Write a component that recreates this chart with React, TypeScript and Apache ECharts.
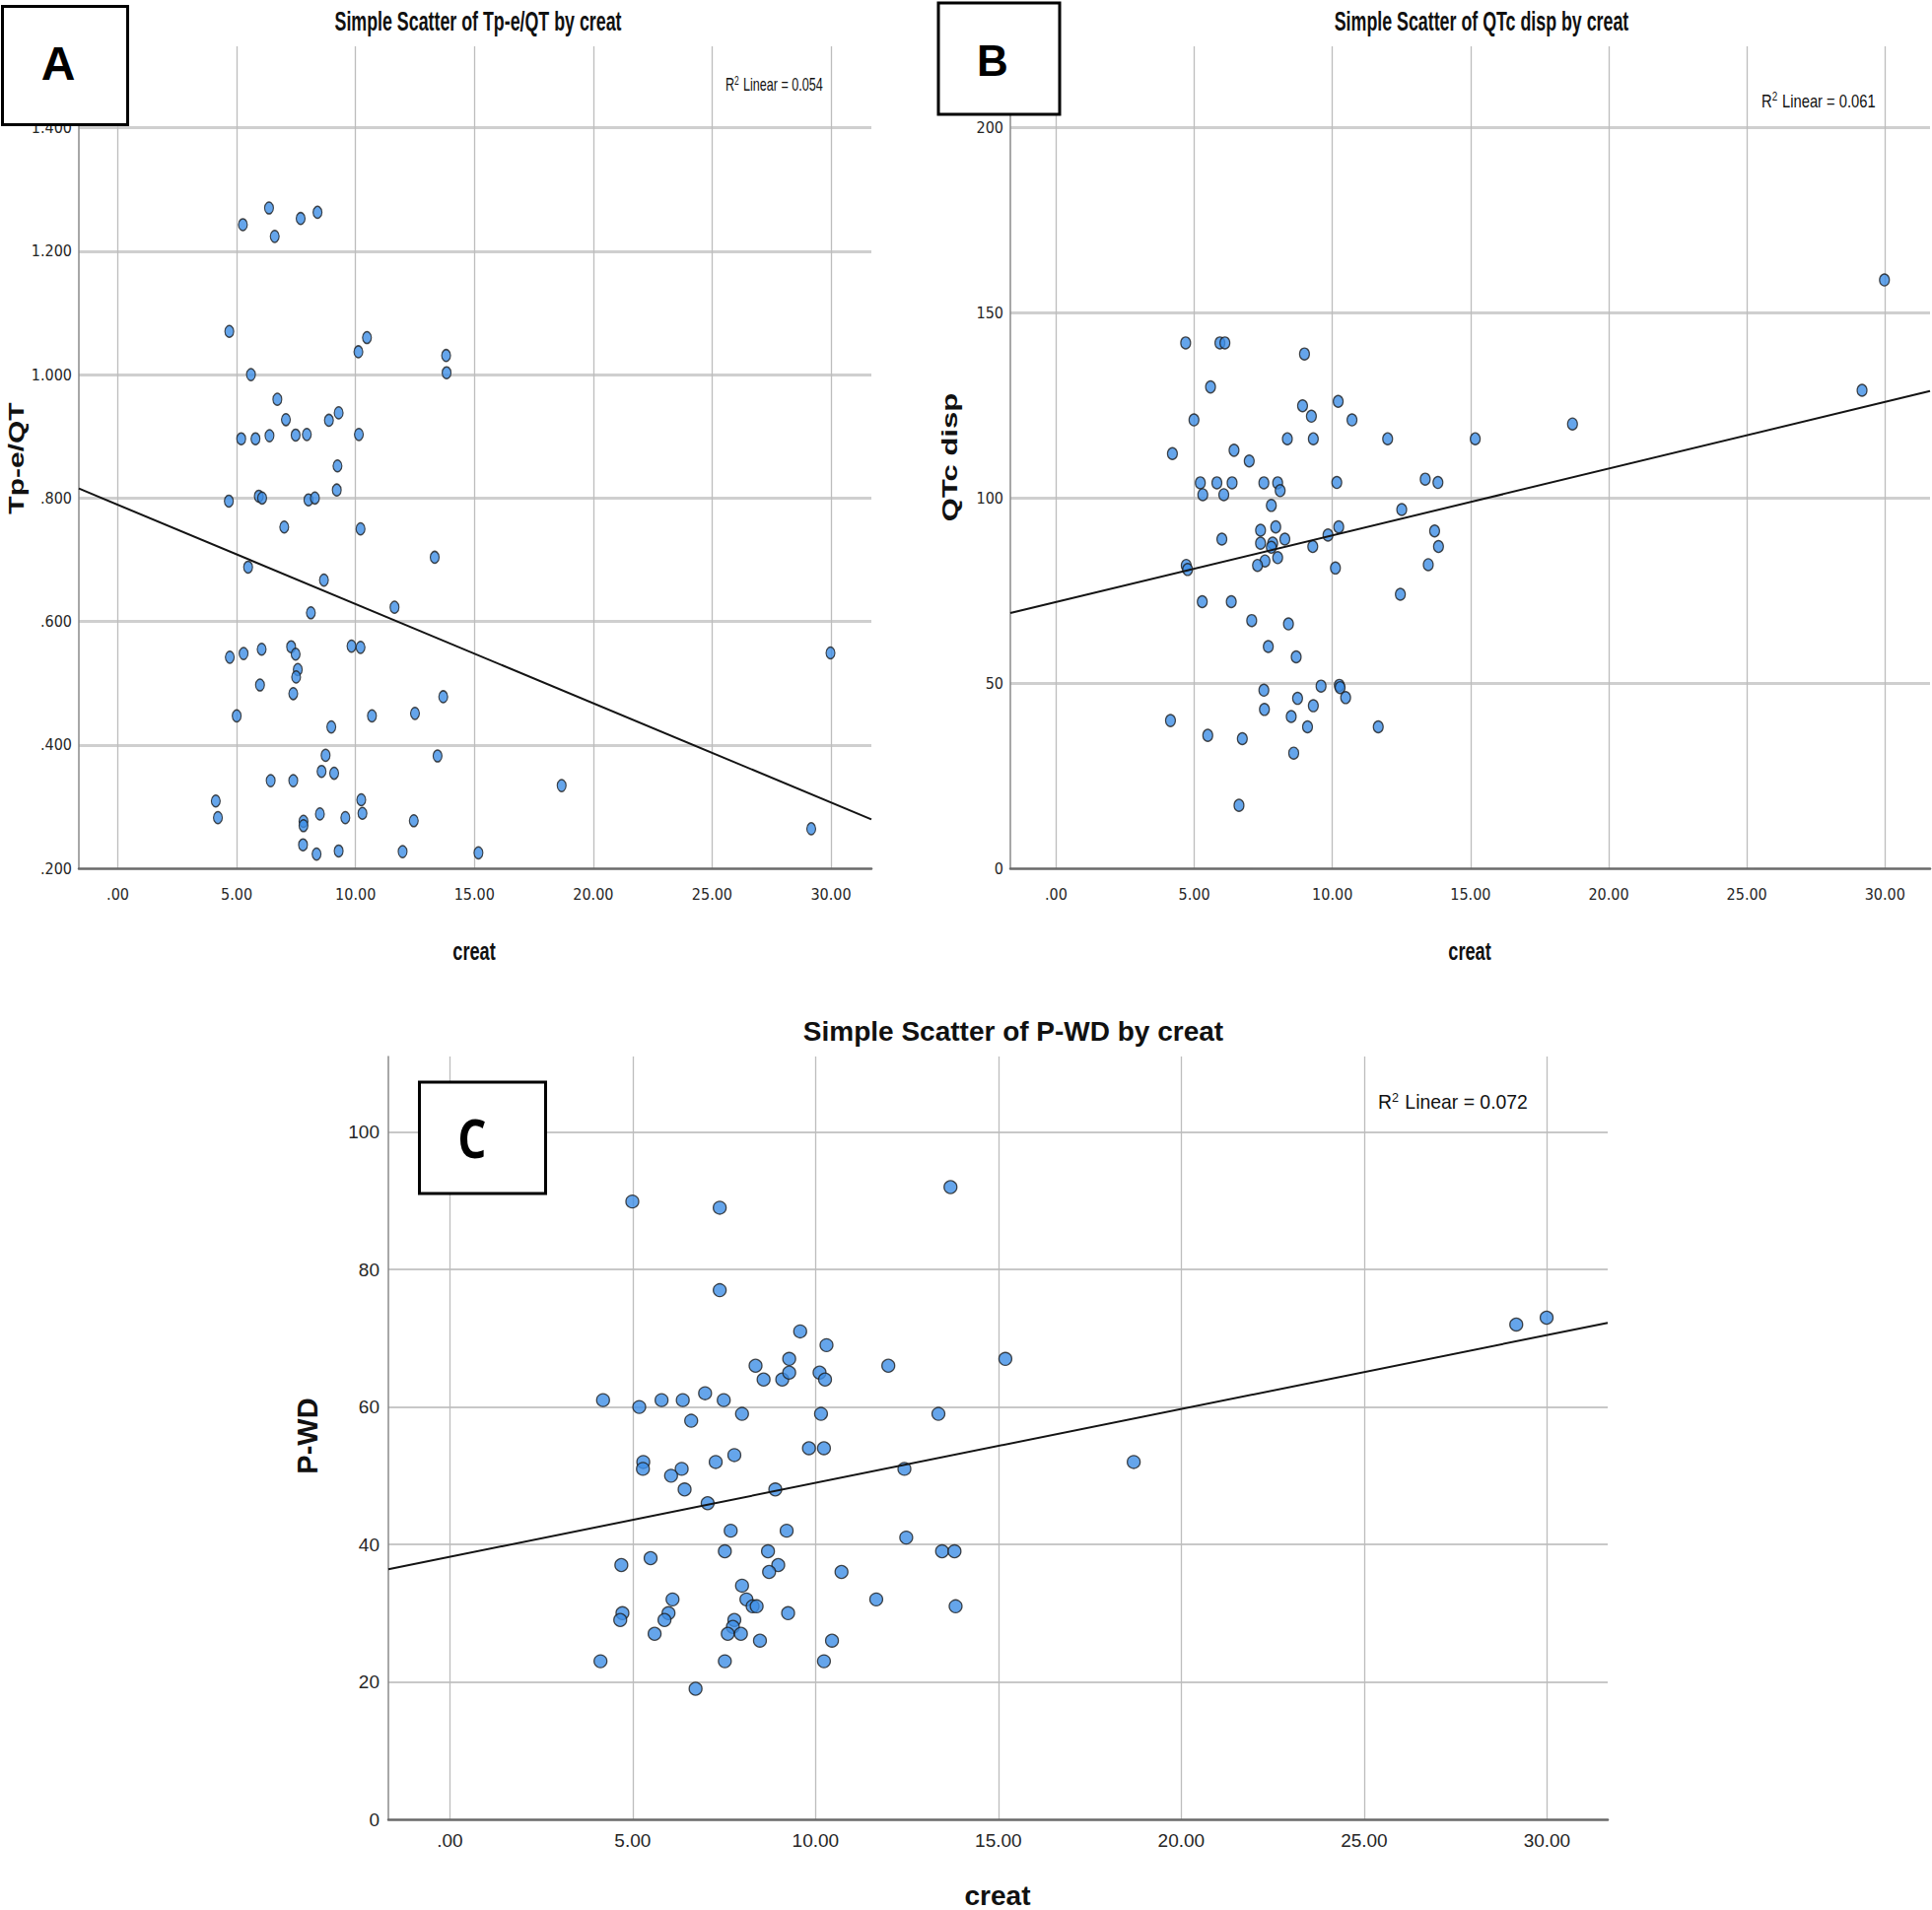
import React, { useEffect, useRef } from "react";
import * as echarts from "echarts";

// ---------- Panel A: Tp-e/QT by creat ----------
const aCreat = [5.26, 6.36, 6.6, 7.69, 8.4, 4.69, 5.6, 10.12, 10.48, 13.81, 13.83, 6.71, 9.29, 7.07, 8.88, 5.19, 5.79, 6.38, 7.48, 7.95, 10.14, 9.24, 9.21, 4.67, 5.93, 6.07, 8.02, 8.29, 7.0, 10.21, 13.33, 5.48, 8.67, 11.64, 8.12, 7.29, 9.83, 10.21, 6.05, 5.29, 4.71, 7.48, 7.57, 7.5, 5.98, 7.38, 13.69, 5.0, 10.69, 12.5, 8.98, 8.74, 13.45, 8.57, 9.1, 6.43, 7.38, 18.67, 4.12, 10.24, 4.21, 8.5, 10.29, 9.57, 7.81, 7.81, 12.45, 29.17, 29.98, 7.79, 8.36, 9.29, 11.98, 15.17];
const aTpeQT = [1.243, 1.27, 1.224, 1.253, 1.263, 1.07, 1.0, 1.037, 1.06, 1.031, 1.003, 0.96, 0.938, 0.927, 0.926, 0.896, 0.896, 0.901, 0.902, 0.903, 0.903, 0.852, 0.813, 0.795, 0.803, 0.8, 0.797, 0.8, 0.753, 0.75, 0.704, 0.688, 0.667, 0.623, 0.614, 0.559, 0.56, 0.558, 0.555, 0.548, 0.542, 0.547, 0.522, 0.51, 0.497, 0.483, 0.478, 0.447, 0.447, 0.451, 0.429, 0.383, 0.382, 0.357, 0.354, 0.342, 0.342, 0.334, 0.309, 0.311, 0.282, 0.288, 0.289, 0.282, 0.276, 0.269, 0.277, 0.264, 0.549, 0.238, 0.223, 0.228, 0.227, 0.225];
const aFitIntercept = 0.789;
const aFitSlope = -0.01608;
const aR2 = "0.054";

// ---------- Panel B: QTc disp by creat ----------
const bCreat = [29.98, 29.17, 4.69, 5.93, 6.11, 8.99, 5.59, 8.92, 10.21, 9.24, 4.99, 10.71, 18.69, 8.37, 9.31, 12.0, 15.17, 4.21, 6.44, 6.99, 5.22, 5.82, 6.37, 7.52, 8.02, 10.16, 13.36, 13.82, 5.31, 6.07, 8.11, 7.79, 12.51, 7.95, 10.23, 7.4, 13.7, 6.0, 8.28, 9.84, 7.4, 7.84, 7.79, 9.29, 13.84, 8.02, 7.56, 7.29, 4.71, 4.76, 10.11, 13.47, 12.46, 5.29, 6.34, 7.08, 8.41, 7.68, 8.69, 9.59, 10.25, 10.28, 7.52, 8.74, 10.48, 9.31, 7.54, 8.51, 4.14, 9.1, 11.66, 5.49, 6.74, 8.6, 6.62];
const bQTcDisp = [158.9, 129.1, 141.9, 141.9, 141.9, 138.9, 130.0, 124.9, 126.1, 122.1, 121.1, 121.1, 120.0, 116.0, 116.0, 116.0, 116.0, 112.0, 112.9, 110.0, 104.1, 104.1, 104.1, 104.1, 104.1, 104.2, 105.1, 104.2, 100.9, 100.9, 102.0, 98.0, 96.9, 92.2, 92.2, 91.3, 91.1, 88.9, 88.9, 90.0, 87.8, 87.8, 86.7, 86.9, 86.9, 83.9, 83.0, 81.8, 81.8, 80.7, 81.1, 82.0, 74.0, 72.0, 72.0, 66.9, 66.0, 59.9, 57.1, 49.2, 49.4, 48.8, 48.1, 45.9, 46.1, 43.9, 42.9, 41.0, 39.9, 38.2, 38.2, 35.9, 35.0, 31.1, 17.0];
const bFitIntercept = 71.9;
const bFitSlope = 1.802;
const bR2 = "0.061";

// ---------- Panel C: P-WD by creat ----------
const cCreat = [4.99, 7.38, 7.38, 13.69, 9.58, 10.3, 9.28, 8.36, 11.99, 15.19, 8.58, 9.09, 9.28, 10.11, 10.26, 4.19, 5.18, 5.79, 6.37, 6.98, 7.49, 7.99, 10.15, 13.36, 6.6, 9.82, 10.23, 7.78, 5.29, 7.27, 5.28, 6.34, 12.43, 6.05, 8.9, 6.42, 7.05, 7.68, 9.21, 12.48, 7.52, 8.7, 13.46, 13.8, 5.49, 4.69, 8.98, 8.73, 10.71, 7.99, 6.09, 8.11, 11.66, 8.28, 8.39, 13.83, 4.72, 5.98, 9.25, 4.66, 5.87, 7.78, 7.74, 7.6, 7.96, 5.6, 8.48, 10.45, 4.12, 7.52, 10.23, 6.72, 18.7, 29.16, 29.99];
const cPWD = [89.9, 89.0, 77.0, 92.0, 71.0, 69.0, 67.0, 66.0, 66.0, 67.0, 64.0, 64.0, 65.0, 65.0, 64.0, 61.0, 60.0, 61.0, 61.0, 62.0, 61.0, 59.0, 59.0, 59.0, 58.0, 54.0, 54.0, 53.0, 52.0, 52.0, 51.0, 51.0, 51.0, 50.0, 48.0, 48.0, 46.0, 42.0, 42.0, 41.0, 39.0, 39.0, 39.0, 39.0, 38.0, 37.0, 37.0, 36.0, 36.0, 34.0, 32.0, 32.0, 32.0, 31.0, 31.0, 31.0, 30.0, 30.0, 30.0, 29.0, 29.0, 29.0, 28.0, 27.0, 27.0, 27.0, 26.0, 26.0, 23.0, 23.0, 23.0, 19.0, 52.0, 72.0, 73.0];
const cFitIntercept = 38.2;
const cFitSlope = 1.0756;
const cR2 = "0.072";

// Axis extents / tick steps
const aXRange = [-1.64, 31.7];
const aYRange = [0.2, 1.532];
const bXRange = [-1.655, 31.63];
const bYRange = [0, 222];
const cXRange = [-1.68, 31.66];
const cYRange = [0, 111];
const xStep = 5;
const aYStep = 0.2;
const bYStep = 50;
const cYStep = 20;

const NARROW = "'Liberation Sans Narrow', 'Arial Narrow', 'DejaVu Sans Condensed', 'Liberation Sans', Arial, sans-serif";
const SANS = "'Liberation Sans', Arial, 'DejaVu Sans', sans-serif";

const isMultiple = (v: number, step: number) => Math.abs(v / step - Math.round(v / step)) < 1e-6;
const stripZero = (s: string) => s.replace(/^0\./, ".");

const fmtX = (v: number) => (isMultiple(v, xStep) ? stripZero(v.toFixed(2)) : "");
const fmtAY = (v: number) => (isMultiple(v, aYStep) ? stripZero(v.toFixed(3)) : "");
const fmtInt = (step: number) => (v: number) => (isMultiple(v, step) ? String(Math.round(v)) : "");

function zip(xs: number[], ys: number[]) {
  return xs.map((x, i) => [x, ys[i]]);
}
function fitLine(range: number[], a: number, b: number) {
  return range.map((x) => [x, a + b * x]);
}

function xAxis(gridIndex: number, range: number[], font: string, fontSize: number, margin: number, hLine: number) {
  return {
    type: "value",
    gridIndex,
    min: range[0],
    max: range[1],
    minInterval: xStep,
    maxInterval: xStep,
    axisLine: { show: true, onZero: false, lineStyle: { color: "#6a6a6a", width: hLine } },
    axisTick: { show: false },
    axisLabel: { formatter: fmtX, fontFamily: font, fontSize, color: "#262626", margin },
    splitLine: { show: true, showMinLine: false, showMaxLine: false, lineStyle: { color: "#bdbdbd", width: 1.3 } },
  };
}
function yAxis(gridIndex: number, range: number[], step: number, fmt: (v: number) => string, font: string, fontSize: number, margin: number, gw: number, gc: string) {
  return {
    type: "value",
    gridIndex,
    min: range[0],
    max: range[1],
    minInterval: step,
    maxInterval: step,
    axisLine: { show: true, onZero: false, lineStyle: { color: "#8a8a8a", width: 1.5 } },
    axisTick: { show: false },
    axisLabel: { formatter: fmt, fontFamily: font, fontSize, color: "#262626", margin },
    splitLine: { show: true, showMinLine: false, showMaxLine: false, lineStyle: { color: gc, width: gw } },
  };
}

const pointStyle = { color: "#3f8fe6", borderColor: "#1c1c1c", borderWidth: 1.3 };

function scatter(idx: number, xs: number[], ys: number[], size: any) {
  return {
    type: "scatter",
    xAxisIndex: idx,
    yAxisIndex: idx,
    data: zip(xs, ys),
    symbol: "circle",
    symbolSize: size,
    itemStyle: pointStyle,
    z: 2,
  };
}
function fit(idx: number, range: number[], a: number, b: number) {
  return {
    type: "line",
    xAxisIndex: idx,
    yAxisIndex: idx,
    data: fitLine(range, a, b),
    showSymbol: false,
    symbol: "none",
    lineStyle: { color: "#141414", width: 2 },
    z: 3,
    silent: true,
  };
}

function labelBox(x: number, y: number, w: number, h: number, letter: string, cx: number, cy: number, fontSize: number, font: string, sx: number) {
  return [
    { type: "rect", shape: { x, y, width: w, height: h }, style: { fill: "#fff", stroke: "#000", lineWidth: 3 }, z: 10 },
    {
      type: "text",
      x: cx,
      y: cy,
      scaleX: sx,
      style: { text: letter, fontSize, fontWeight: "bold", fontFamily: font, fill: "#000", align: "center", verticalAlign: "middle" },
      z: 11,
    },
  ];
}
function txt(text: string, x: number, y: number, fontSize: number, opts: any = {}) {
  return {
    type: "text",
    x,
    y,
    scaleX: opts.scaleX ?? 1,
    scaleY: opts.scaleY ?? 1,
    rotation: opts.rotation ?? 0,
    style: {
      text,
      fontSize,
      fontWeight: opts.bold ? "bold" : "normal",
      fontFamily: opts.font ?? SANS,
      fill: "#111",
      align: opts.align ?? "center",
      verticalAlign: "middle",
      rich: opts.rich,
    },
    z: 9,
  };
}
function r2Text(value: string, x: number, y: number, fontSize: number, scaleX: number) {
  return {
    type: "text",
    x,
    y,
    scaleX,
    style: {
      text: "R{sup|2} Linear = " + value,
      fontSize,
      fontFamily: SANS,
      fill: "#111",
      align: "left",
      verticalAlign: "middle",
      rich: {
        sup: { fontSize: Math.round(fontSize * 0.65), fontFamily: SANS, fill: "#111", verticalAlign: "top", padding: [0, 1, Math.round(fontSize * 0.5), 0] },
      },
    },
    z: 9,
  };
}

export default function App() {
  const ref = useRef<HTMLDivElement>(null);
  useEffect(() => {
    document.body.style.margin = "0";
    const chart = echarts.init(ref.current!, null, { renderer: "svg" });
    const option: any = {
      animation: false,
      backgroundColor: "#ffffff",
      grid: [
        { left: 80, top: 47, width: 804, height: 834, containLabel: false, outerBoundsMode: "none" },
        { left: 1025, top: 47, width: 933, height: 834, containLabel: false, outerBoundsMode: "none" },
        { left: 394, top: 1072, width: 1237, height: 774, containLabel: false, outerBoundsMode: "none" },
      ],
      xAxis: [
        xAxis(0, aXRange, NARROW, 16, 18, 2.5),
        xAxis(1, bXRange, NARROW, 16, 18, 2.5),
        xAxis(2, cXRange, SANS, 19, 12, 2.5),
      ],
      yAxis: [
        yAxis(0, aYRange, aYStep, fmtAY, NARROW, 16, 7, 3, "#cfcfcf"),
        yAxis(1, bYRange, bYStep, fmtInt(bYStep), NARROW, 16, 7, 3, "#cfcfcf"),
        yAxis(2, cYRange, cYStep, fmtInt(cYStep), SANS, 19, 9, 2, "#c8c8c8"),
      ],
      series: [
        scatter(0, aCreat, aTpeQT, [9, 12]),
        fit(0, aXRange, aFitIntercept, aFitSlope),
        scatter(1, bCreat, bQTcDisp, [10, 12]),
        fit(1, bXRange, bFitIntercept, bFitSlope),
        scatter(2, cCreat, cPWD, 13),
        fit(2, cXRange, cFitIntercept, cFitSlope),
      ],
      graphic: [
        // titles
        txt("Simple Scatter of Tp-e/QT by creat", 485, 22, 27, { bold: true, scaleX: 0.66 }),
        txt("Simple Scatter of QTc disp by creat", 1503, 22, 27, { bold: true, scaleX: 0.66 }),
        txt("Simple Scatter of P-WD by creat", 1028, 1046, 28, { bold: true }),
        // R² annotations
        r2Text(aR2, 736, 86, 18, 0.7),
        r2Text(bR2, 1787, 102, 18, 0.82),
        r2Text(cR2, 1398, 1118, 20, 0.97),
        // axis names
        txt("creat", 481, 965, 26, { bold: true, scaleX: 0.7 }),
        txt("creat", 1491, 965, 26, { bold: true, scaleX: 0.7 }),
        txt("creat", 1012, 1923, 28, { bold: true }),
        txt("Tp-e/QT", 17, 465, 30, { bold: true, rotation: Math.PI / 2, scaleY: 0.72 }),
        txt("QTc disp", 964, 464, 31, { bold: true, rotation: Math.PI / 2, scaleY: 0.7 }),
        txt("P-WD", 312, 1457, 29, { bold: true, rotation: Math.PI / 2 }),
        // panel letters
        ...labelBox(2.5, 6.5, 127, 120, "A", 59, 64, 48, SANS, 1),
        ...labelBox(952, 3, 123, 113, "B", 1007, 61, 44, SANS, 1),
        ...labelBox(425.5, 1098, 128, 113, "C", 479, 1154, 54, "'Open Sans', 'Noto Sans', sans-serif", 0.85),
      ],
    };
    chart.setOption(option);
    return () => chart.dispose();
  }, []);
  return <div ref={ref} style={{ width: 1960, height: 1938 }} />;
}
